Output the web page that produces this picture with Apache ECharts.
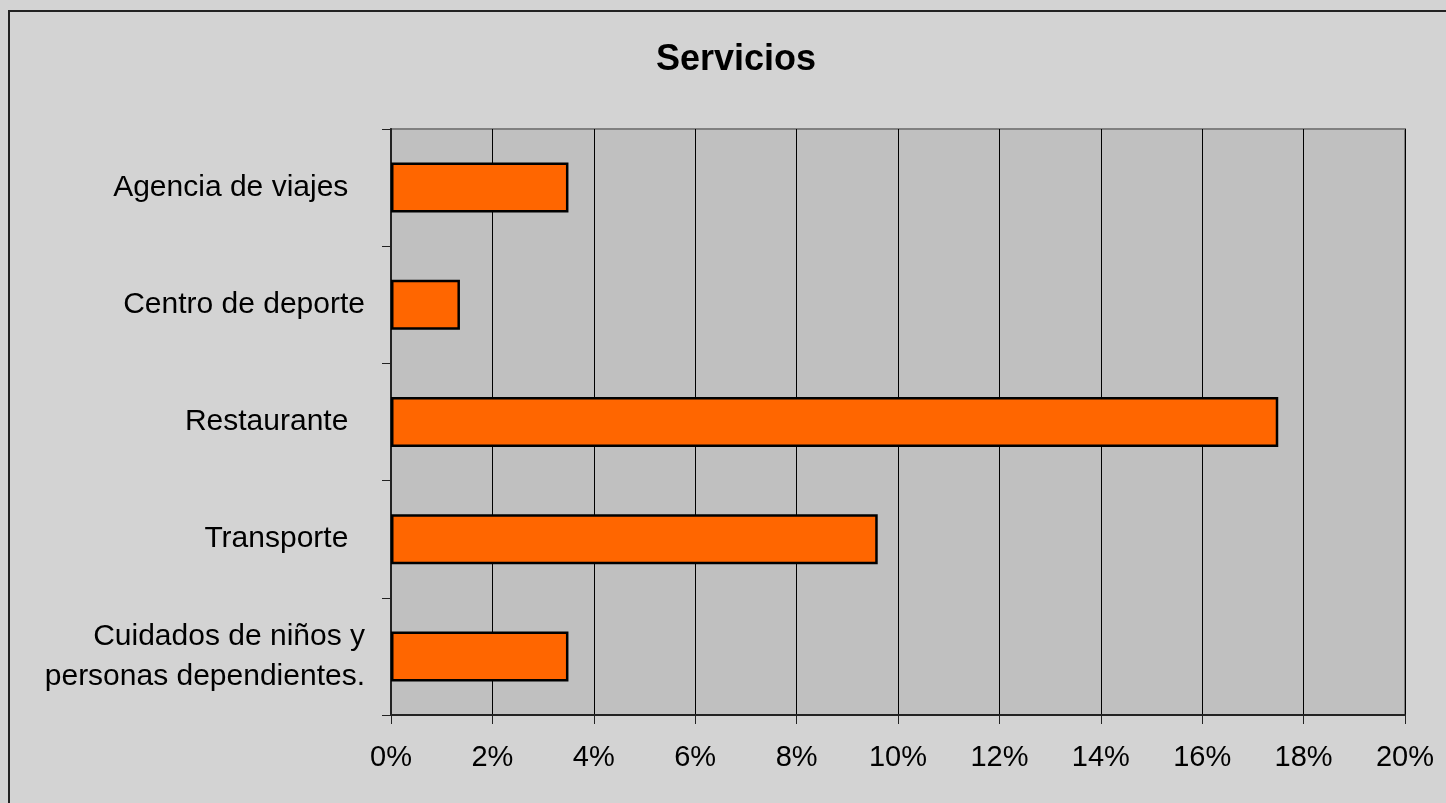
<!DOCTYPE html>
<html>
<head>
<meta charset="utf-8">
<title>Servicios</title>
<script src="https://cdn.jsdelivr.net/npm/echarts@6/dist/echarts.min.js"></script>
<style>
  html, body { margin: 0; padding: 0; background: #d3d3d3; }
  #chart { width: 1446px; height: 803px; }
</style>
</head>
<body>
<div id="chart"></div>
<script>
// datos del gráfico
var categorias = [
  'Agencia de viajes  ',
  'Centro de deporte',
  'Restaurante  ',
  'Transporte  ',
  'Cuidados de niños y\npersonas dependientes.'
];
var porcentajes = [3.5, 1.36, 17.5, 9.6, 3.5];
var ejeMin = 0, ejeMax = 20, ejePaso = 2;

var chart = echarts.init(document.getElementById('chart'));
chart.setOption({
  backgroundColor: '#d3d3d3',
  animation: false,
  title: {
    text: 'Servicios',
    left: 736,
    top: 42,
    padding: 0,
    textAlign: 'center',
    textStyle: {
      fontFamily: 'Liberation Sans',
      fontSize: 36,
      fontWeight: 'bold',
      color: '#000'
    }
  },
  // marco exterior
  graphic: [{
    type: 'rect',
    shape: { x: 9, y: 11, width: 1600, height: 900 },
    style: { fill: 'none', stroke: '#222', lineWidth: 2 },
    silent: true
  }],
  grid: {
    left: 391,
    top: 129,
    right: 41,
    bottom: 88,
    show: true,
    backgroundColor: '#c0c0c0',
    borderColor: '#808080',
    borderWidth: 2
  },
  xAxis: {
    type: 'value',
    min: ejeMin,
    max: ejeMax,
    interval: ejePaso,
    axisLine: { show: true, lineStyle: { color: '#222', width: 2 } },
    axisTick: { show: true, length: 9, lineStyle: { color: '#222', width: 1 } },
    splitLine: { show: true, lineStyle: { color: '#000', width: 1 } },
    axisLabel: {
      formatter: '{value}%',
      margin: 28,
      fontFamily: 'Liberation Sans',
      fontSize: 29,
      color: '#000'
    }
  },
  yAxis: {
    type: 'category',
    inverse: true,
    data: categorias,
    axisLine: { show: true, lineStyle: { color: '#222', width: 2 } },
    axisTick: { show: true, length: 9, lineStyle: { color: '#222', width: 1 } },
    axisLabel: {
      margin: 26,
      fontFamily: 'Liberation Sans',
      fontSize: 30,
      lineHeight: 40,
      color: '#000',
      align: 'right'
    }
  },
  series: [{
    type: 'bar',
    data: porcentajes,
    barWidth: 50,
    itemStyle: {
      color: '#ff6600',
      borderColor: '#000',
      borderWidth: 2.5
    }
  }]
});
</script>
</body>
</html>
